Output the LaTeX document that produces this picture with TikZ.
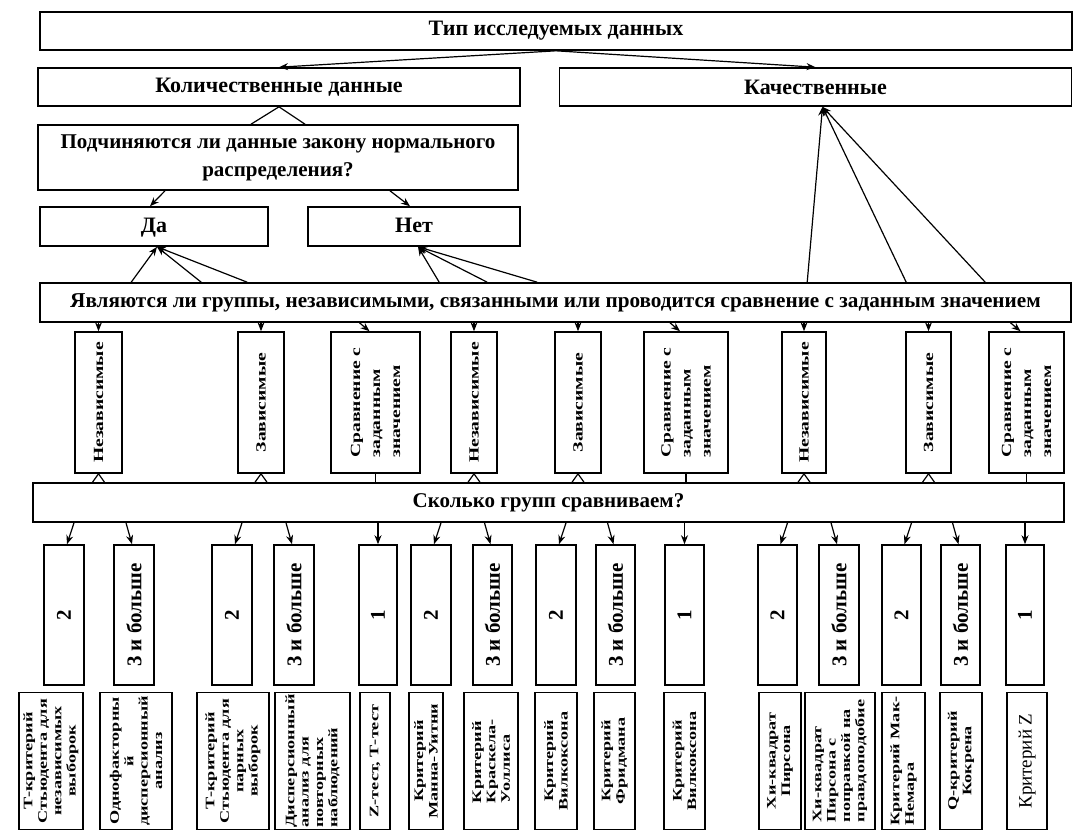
\documentclass[tikz,border=0pt]{standalone}
\usepackage{fontspec}
\setmainfont{Liberation Serif}
\newfontfamily\narrowserif[FakeStretch=1.4]{Liberation Serif}
\usetikzlibrary{positioning,calc,arrows.meta}

\tikzset{
  box/.style={draw, thick, inner sep=1pt, align=center, font=\bfseries\fontsize{11}{14}\selectfont},
  vbox/.style={draw, thick, rotate=90, inner sep=1pt},
  link/.style={semithick},
  arr/.style={semithick, -{Stealth[length=4.5pt,width=3.5pt]}},
}

\begin{document}
\begin{tikzpicture}[x=0.5pt, y=-0.5pt]
    \useasboundingbox (0,0) rectangle (1074,832);

    % Top levels
    \node[box, minimum width=516pt, minimum height=19pt] (type) at (556,31) {Тип исследуемых данных};
    \node[box, minimum width=241pt, minimum height=19pt] (kol) at (279,87) {Количественные данные};
    \node[box, minimum width=256pt, minimum height=19pt] (kach) at (815.5,87) {Качественные};
    \node[box, font=\bfseries\fontsize{10.5}{14}\selectfont, minimum width=240pt, minimum height=32.5pt] (norm) at (278,157.5) {Подчиняются ли данные закону нормального\\распределения?};
    \node[box, text height=8pt, text depth=2pt, minimum width=114pt, minimum height=19.5pt] (da) at (154,226.5) {Да};
    \node[box, text height=8pt, text depth=2pt, minimum width=106pt, minimum height=19.5pt] (net) at (414,226.5) {Нет};
    \node[box, font=\bfseries\fontsize{10.6}{14}\selectfont, minimum width=515.5pt, minimum height=19.5pt] (grp) at (555.5,302.5) {Являются ли группы, независимыми, связанными или проводится сравнение с заданным значением};
    \node[box, font=\bfseries\fontsize{10.5}{14}\selectfont, minimum width=515.5pt, minimum height=19.5pt] (how) at (548.5,502.5) {Сколько групп сравниваем?};

    % Links between top levels
    \draw[arr] (type.south) -- (kol.north);
    \draw[arr] (type.south) -- (kach.north);
    \draw[link] (kol.south) -- ($(norm.north)+(-27,0)$);
    \draw[link] (kol.south) -- ($(norm.north)+(27,0)$);
    \draw[arr] ($(norm.south)+(-113,0)$) -- ($(da.north)+(-4,0)$);
    \draw[arr] ($(norm.south)+(112,0)$) -- ($(net.north)+(-4,0)$);
    \foreach \dx in {92,162,208}
        \draw[arr] ($(grp.north west)+(\dx,0)$) -- ($(da.south)+(3,0)$);
    \foreach \dx in {400,448,498}
        \draw[arr] ($(grp.north west)+(\dx,0)$) -- ($(net.south)+(4,0)$);
    \foreach \dx in {768,867,946}
        \draw[arr] ($(grp.north west)+(\dx,0)$) -- ($(kach.south)+(7,0)$);

    % Kind of groups
    \foreach \n/\a/\b/\al/\t in {1/75/122/center/Независимые, 2/238/284/center/Зависимые,
        3/331/420/left/{Сравнение с\\заданным\\значением}, 4/451/497/center/Независимые,
        5/555/601/center/Зависимые, 6/644/728/left/{Сравнение с\\заданным\\значением},
        7/782/826/center/Независимые, 8/906/951/center/Зависимые,
        9/989/1064/left/{Сравнение с\\заданным\\значением}}
        \node[vbox, align=\al, font=\narrowserif\bfseries\fontsize{7}{10}\selectfont,
              minimum width=70.5pt, minimum height={0.5pt*(\b-\a)}] (r1-\n) at ({(\a+\b)/2},402.5) {\t};

    \foreach \n in {1,2,4,5,7,8} {
        \draw[arr] (r1-\n.east |- grp.south) -- (r1-\n.east);
        \draw[link] (r1-\n.west) -- ($(r1-\n.west |- how.north)+(-6,0)$);
        \draw[link] (r1-\n.west) -- ($(r1-\n.west |- how.north)+(6,0)$);
    }
    \foreach \n in {3,6,9} {
        \draw[arr] ($(r1-\n.east |- grp.south)+(-16,0)$) -- ($(r1-\n.east)+(-6,0)$);
        \draw[link] (r1-\n.west) -- (r1-\n.west |- how.north);
    }

    % Number of groups
    \foreach \n/\a/\b/\s/\e/\t in {1/44/84/10/3/2, 2/114/154/-8/-2/3 и больше, 3/212/252/10/3/2,
        4/274/314/-8/-2/3 и больше, 5/359/397/0/0/1, 6/411/451/10/3/2, 7/473/512/-8/-2/3 и больше,
        8/536/576/10/3/2, 9/596/635/-8/-2/3 и больше, 10/665/704/0/0/1, 11/758/797/10/3/2,
        12/819/859/-8/-2/3 и больше, 13/882/921/10/3/2, 14/941/980/-8/-2/3 и больше, 15/1006/1044/0/0/1}
    {
        \node[vbox, font=\bfseries\fontsize{10.5}{12}\selectfont,
              minimum width=70pt, minimum height={0.5pt*(\b-\a)}] (r2-\n) at ({(\a+\b)/2},615) {\t};
        \draw[arr] ($(r2-\n.east |- how.south)+(\s,0)$) -- ($(r2-\n.east)+(\e,0)$);
    }

    % Criteria
    \foreach \n/\a/\b/\al/\t in {1/19/83/center/{Т-критерий\\Стьюдента для\\независимых\\выборок},
        2/100/172/center/{Однофакторны\\й\\дисперсионный\\анализ},
        3/197/269/center/{Т-критерий\\Стьюдента для\\парных\\выборок},
        4/275/350/left/{Дисперсионный\\анализ для\\повторных\\наблюдений},
        5/360/390/center/{Z-тест, Т-тест},
        6/409/443/center/{Критерий\\Манна-Уитни},
        7/464/518/left/{Критерий\\Краскела-\\Уоллиса},
        8/535/577/center/{Критерий\\Вилкоксона},
        9/594/635/center/{Критерий\\Фридмана},
        10/664/705/center/{Критерий\\Вилкоксона},
        11/759/801/center/{Хи-квадрат\\Пирсона},
        12/805/875/left/{Хи-квадрат\\Пирсона с\\поправкой на\\правдоподобие},
        13/882/925/left/{Критерий Мак-\\Немара},
        14/940/982/center/{Q-критерий\\Кокрена},
        15/1007/1047/center/{\normalfont\fontsize{9.5}{11}\selectfont Критерий Z}}
        \node[vbox, align=\al, font=\narrowserif\bfseries\fontsize{6.5}{7.2}\selectfont,
              minimum width=68.5pt, minimum height={0.5pt*(\b-\a)}] (r3-\n) at ({(\a+\b)/2},761) {\t};
\end{tikzpicture}
\end{document}
